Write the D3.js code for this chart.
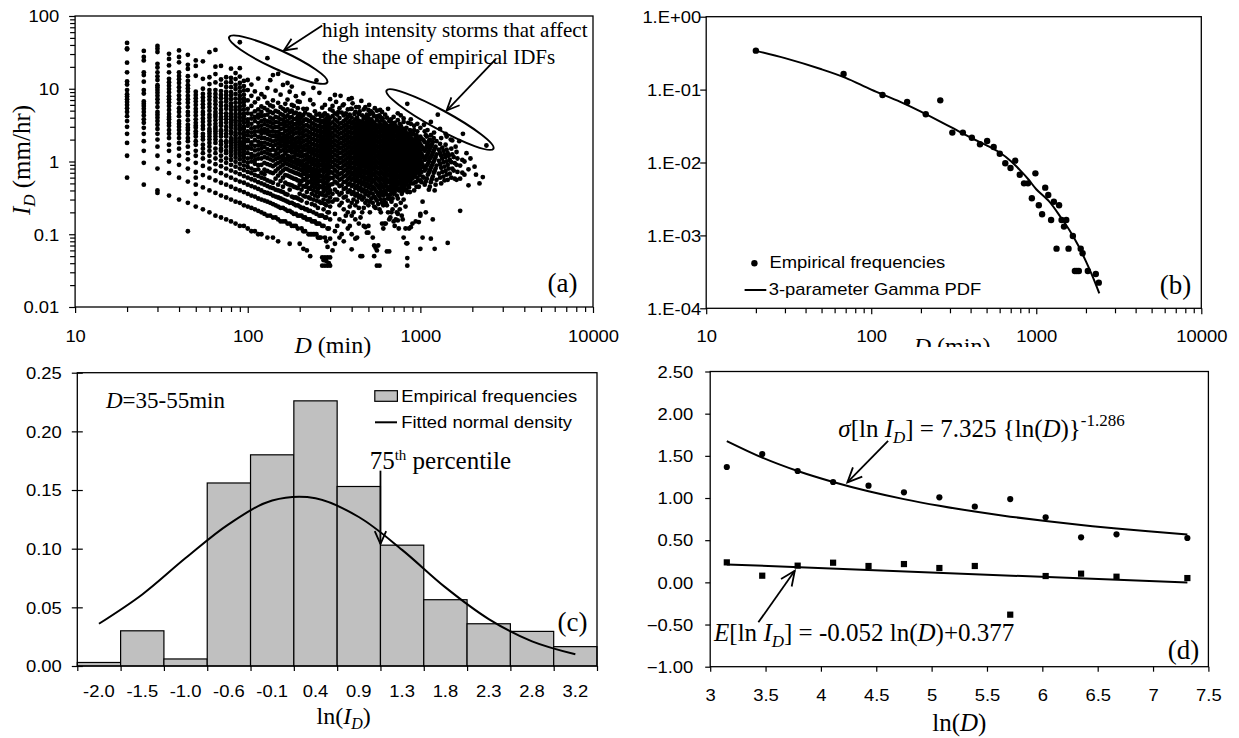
<!DOCTYPE html>
<html>
<head>
<meta charset="utf-8">
<script src="https://cdn.jsdelivr.net/npm/d3@7"></script>
<style>
  body { margin: 0; background: #fff; }
  svg { display: block; }
</style>
</head>
<body>
<svg id="fig" width="1239" height="738"></svg>
<script>

///////////////////////
/// Data            ///
///////////////////////

// (a) storm duration D (min) vs mean intensity I_D (mm/hr)
const columnDurations = [20, 25, 30, 35, 40, 45, 50, 55, 60, 65, 70, 75, 80, 85, 90, 95];
const columnIntensities = [
  [42.6, 36.0, 34.8, 22.8, 16.8, 12.6, 11.4, 9.6, 8.4, 7.8, 7.2, 6.6, 6.0, 5.4, 4.8, 4.2, 3.6, 3.0, 2.4, 1.8, 1.2, 0.6],
  [33.1, 27.4, 24.5, 16.8, 15.4, 12.5, 9.6, 8.6, 6.7, 6.2, 5.8, 5.3, 4.8, 4.3, 3.8, 3.4, 2.9, 2.4, 1.9, 1.4, 0.96, 0.48],
  [38.8, 35.6, 32.0, 22.0, 19.6, 16.8, 14.8, 13.2, 11.2, 10.4, 9.6, 8.8, 8.0, 7.2, 6.4, 5.6, 4.8, 4.4, 4.0, 3.6, 3.2, 2.8, 2.4, 2.0, 1.6, 1.2, 0.8, 0.4, 0.37],
  [30.2, 25.7, 20.9, 16.8, 13.7, 12.3, 11.0, 9.9, 8.9, 7.9, 7.2, 6.5, 5.8, 5.1, 4.5, 4.1, 3.8, 3.4, 3.1, 2.7, 2.4, 2.1, 1.7, 1.4, 1.0, 0.69, 0.34],
  [33.6, 27.3, 23.1, 16.8, 15.0, 13.5, 12.0, 10.5, 9.3, 8.1, 7.2, 6.3, 5.4, 4.8, 4.2, 3.6, 3.3, 3.0, 2.7, 2.4, 2.1, 1.8, 1.5, 1.2, 0.9, 0.6, 0.3],
  [29.3, 21.3, 18.7, 14.9, 12.8, 11.2, 10.1, 9.1, 8.0, 7.2, 6.4, 5.6, 4.8, 4.3, 3.7, 3.2, 2.9, 2.7, 2.4, 2.1, 1.9, 1.6, 1.3, 1.07, 0.8, 0.53, 0.27, 0.11],
  [24.5, 20.6, 15.1, 9.1, 8.2, 7.4, 6.7, 6.0, 5.3, 4.8, 4.3, 3.8, 3.4, 3.1, 2.9, 2.6, 2.4, 2.2, 1.9, 1.7, 1.4, 1.2, 0.96, 0.72, 0.6, 0.48, 0.36, 0.24],
  [23.8, 13.7, 10.0, 8.5, 7.6, 6.8, 6.1, 5.5, 4.8, 4.4, 3.9, 3.5, 3.1, 2.8, 2.4, 2.2, 2.0, 1.7, 1.5, 1.3, 1.1, 0.87, 0.65, 0.44, 0.22],
  [31.8, 14.4, 11.6, 9.6, 8.6, 7.8, 7.0, 6.2, 5.6, 5.0, 4.4, 4.0, 3.6, 3.2, 2.8, 2.6, 2.4, 2.2, 2.0, 1.8, 1.6, 1.4, 1.2, 1.0, 0.8, 0.6, 0.4, 0.2],
  [34.2, 20.1, 15.9, 12.2, 9.6, 8.5, 7.6, 6.8, 6.1, 5.4, 4.8, 4.4, 4.1, 3.7, 3.3, 3.0, 2.8, 2.6, 2.4, 2.2, 2.0, 1.8, 1.5, 1.3, 1.1, 0.92, 0.74, 0.55, 0.37, 0.18],
  [20.6, 13.4, 11.3, 9.3, 8.2, 7.4, 6.5, 5.8, 5.1, 4.6, 4.1, 3.8, 3.4, 3.1, 2.7, 2.6, 2.4, 2.2, 1.9, 1.7, 1.5, 1.4, 1.2, 1.03, 0.86, 0.69, 0.51, 0.34, 0.17],
  [14.4, 12.2, 10.6, 9.1, 8.2, 7.4, 6.7, 5.9, 5.3, 4.6, 4.2, 3.8, 3.4, 3.0, 2.7, 2.4, 2.2, 1.9, 1.8, 1.6, 1.4, 1.3, 1.1, 0.96, 0.8, 0.64, 0.48, 0.32, 0.16],
  [18.9, 14.1, 12.3, 10.5, 9.0, 8.1, 7.2, 6.3, 5.7, 5.1, 4.5, 4.1, 3.8, 3.5, 3.2, 2.9, 2.6, 2.4, 2.1, 1.95, 1.8, 1.65, 1.5, 1.35, 1.2, 1.05, 0.9, 0.75, 0.6, 0.45, 0.3, 0.15],
  [16.4, 13.6, 11.3, 9.9, 8.5, 7.3, 6.4, 5.6, 5.1, 4.5, 4.1, 3.7, 3.4, 3.1, 2.8, 2.5, 2.3, 2.1, 1.98, 1.84, 1.69, 1.55, 1.41, 1.27, 1.13, 0.99, 0.85, 0.71, 0.56, 0.42, 0.28, 0.14],
  [43.6, 19.2, 14.7, 12.0, 10.4, 9.1, 8.0, 7.2, 6.4, 5.7, 5.1, 4.5, 4.0, 3.6, 3.2, 2.9, 2.7, 2.4, 2.1, 1.87, 1.73, 1.6, 1.47, 1.33, 1.2, 1.07, 0.93, 0.8, 0.67, 0.53, 0.4, 0.27, 0.13],
  [12.8, 10.9, 9.5, 8.3, 7.3, 6.6, 5.9, 5.2, 4.6, 4.2, 3.8, 3.4, 3.0, 2.8, 2.5, 2.3, 2.1, 1.9, 1.77, 1.64, 1.52, 1.39, 1.26, 1.14, 1.01, 0.88, 0.76, 0.63, 0.51, 0.38, 0.25, 0.13]
];
// longer storms: [duration, intensities]
const cloudRows = [
  [100, [0.12, 0.24, 0.36, 0.48, 0.6, 0.72, 0.84, 0.96, 1.1, 1.3, 1.5, 1.6, 1.9, 2.0, 2.3, 2.6, 3.1, 3.5, 3.8, 4.6, 5.3, 6.9, 9.6, 13.2]],
  [105, [0.11, 0.23, 0.34, 0.46, 0.57, 0.69, 0.8, 1.0, 1.14, 1.26, 1.5, 1.7, 1.83, 2.2, 2.5, 2.85, 3.3, 3.9, 4.5, 5.8, 8.0, 11.4]],
  [110, [0.11, 0.22, 0.33, 0.44, 0.55, 0.65, 0.76, 0.93, 1.04, 1.2, 1.42, 1.64, 1.96, 2.3, 2.6, 2.95, 3.6, 4.1, 4.9, 6.5, 9.2]],
  [115, [0.1, 0.21, 0.31, 0.42, 0.52, 0.63, 0.78, 0.89, 1.1, 1.25, 1.46, 1.67, 1.88, 2.18, 2.6, 3.0, 3.4, 4.0, 4.4, 5.2, 7.3, 13.8]],
  [120, [0.1, 0.2, 0.3, 0.4, 0.5, 0.6, 0.7, 0.9, 1.1, 1.3, 1.5, 1.7, 1.8, 2.1, 2.4, 2.7, 3.1, 3.6, 4.2, 4.8, 5.7, 8.4]],
  [125, [0.19, 0.29, 0.38, 0.48, 0.58, 0.67, 0.77, 0.96, 1.15, 1.34, 1.58, 1.82, 2.11, 2.5, 2.78, 3.26, 3.74, 4.3, 5.4, 7.7]],
  [130, [0.09, 0.18, 0.28, 0.37, 0.46, 0.55, 0.74, 0.92, 1.11, 1.29, 1.48, 1.75, 2.03, 2.4, 2.72, 3.14, 3.6, 4.4, 5.1, 6.4, 10.2, 26.3]],
  [135, [0.18, 0.27, 0.36, 0.44, 0.53, 0.71, 0.89, 1.07, 1.24, 1.42, 1.69, 1.96, 2.27, 2.58, 3.02, 3.47, 4.0, 4.8, 5.9, 13.1]],
  [140, [0.09, 0.17, 0.26, 0.34, 0.43, 0.51, 0.69, 0.86, 1.03, 1.2, 1.46, 1.63, 1.89, 2.23, 2.57, 2.91, 3.34, 3.86, 4.63, 5.7, 6.9, 15.4]],
  [145, [0.17, 0.25, 0.33, 0.41, 0.58, 0.74, 0.91, 1.08, 1.24, 1.41, 1.7, 1.95, 2.24, 2.56, 2.98, 3.48, 4.1, 4.97, 9.4]],
  [150, [0.08, 0.16, 0.24, 0.32, 0.4, 0.48, 0.64, 0.8, 0.96, 1.12, 1.28, 1.52, 1.76, 2.0, 2.24, 2.56, 2.96, 3.44, 4.0, 4.8, 6.4, 16.0]],
  [155, [0.15, 0.23, 0.31, 0.39, 0.54, 0.7, 0.85, 1.0, 1.16, 1.39, 1.63, 1.86, 2.09, 2.4, 2.79, 3.25, 3.8, 4.5, 5.6, 8.3]],
  [160, [0.15, 0.23, 0.3, 0.38, 0.45, 0.6, 0.75, 0.9, 1.05, 1.2, 1.43, 1.65, 1.88, 2.1, 2.4, 2.85, 3.3, 3.75, 4.35, 5.3, 11.3]],
  [165, [0.15, 0.22, 0.29, 0.36, 0.51, 0.65, 0.8, 0.95, 1.09, 1.31, 1.53, 1.75, 1.96, 2.25, 2.62, 3.05, 3.49, 4.07, 4.95, 6.2]],
  [170, [0.14, 0.21, 0.28, 0.35, 0.49, 0.64, 0.78, 0.92, 1.06, 1.2, 1.41, 1.62, 1.84, 2.05, 2.33, 2.68, 3.11, 3.6, 4.3, 5.2, 7.1, 12.0]],
  [175, [0.074, 0.14, 0.21, 0.27, 0.41, 0.48, 0.62, 0.75, 0.89, 1.03, 1.17, 1.41, 1.58, 1.85, 2.13, 2.47, 2.88, 3.36, 3.98, 4.8, 9.1]],
  [180, [0.13, 0.2, 0.27, 0.33, 0.47, 0.6, 0.73, 0.87, 1.0, 1.13, 1.33, 1.53, 1.73, 1.93, 2.2, 2.6, 3.0, 3.47, 4.07, 5.0, 6.0, 10.7]],
  [185, [0.13, 0.19, 0.26, 0.32, 0.45, 0.58, 0.71, 0.84, 0.97, 1.17, 1.36, 1.56, 1.75, 2.01, 2.4, 2.79, 3.24, 3.83, 4.6, 5.8]],
  [190, [0.13, 0.19, 0.25, 0.32, 0.44, 0.57, 0.69, 0.82, 0.95, 1.07, 1.26, 1.45, 1.64, 1.83, 2.08, 2.46, 2.84, 3.28, 3.85, 4.7, 7.9]],
  [195, [0.12, 0.18, 0.25, 0.31, 0.43, 0.55, 0.68, 0.8, 0.92, 1.05, 1.23, 1.42, 1.6, 1.85, 2.15, 2.52, 2.95, 3.51, 4.2, 5.4, 6.7]],
  [200, [0.074, 0.18, 0.24, 0.3, 0.36, 0.48, 0.54, 0.66, 0.78, 0.9, 1.02, 1.2, 1.38, 1.56, 1.8, 2.04, 2.4, 2.76, 3.24, 3.84, 4.5, 6.6]],
  [205, [0.12, 0.18, 0.23, 0.29, 0.41, 0.53, 0.64, 0.76, 0.88, 0.99, 1.17, 1.35, 1.58, 1.81, 2.11, 2.46, 2.87, 3.39, 4.1]],
  [210, [0.063, 0.11, 0.17, 0.23, 0.34, 0.46, 0.57, 0.69, 0.8, 0.91, 1.03, 1.2, 1.43, 1.6, 1.89, 2.23, 2.57, 3.03, 3.6, 4.35, 5.3, 8.6]],
  [215, [0.11, 0.17, 0.22, 0.33, 0.45, 0.56, 0.67, 0.78, 0.89, 1.06, 1.23, 1.45, 1.67, 1.95, 2.29, 2.68, 3.13, 3.8, 4.7]],
  [220, [0.06, 0.16, 0.22, 0.27, 0.38, 0.49, 0.6, 0.71, 0.82, 0.93, 1.09, 1.25, 1.47, 1.69, 1.96, 2.29, 2.67, 3.16, 3.76, 5.3]],
  [225, [0.1, 0.16, 0.21, 0.32, 0.43, 0.53, 0.64, 0.75, 0.85, 1.01, 1.17, 1.39, 1.6, 1.87, 2.19, 2.56, 3.04, 3.6, 4.4]],
  [230, [0.05, 0.1, 0.16, 0.21, 0.31, 0.42, 0.52, 0.63, 0.73, 0.83, 0.99, 1.15, 1.36, 1.57, 1.83, 2.14, 2.5, 2.97, 3.6, 4.3, 7.0]],
  [235, [0.1, 0.15, 0.26, 0.36, 0.46, 0.56, 0.66, 0.77, 0.92, 1.07, 1.28, 1.48, 1.74, 2.04, 2.4, 2.81, 3.32, 4.0]],
  [240, [0.1, 0.15, 0.2, 0.3, 0.4, 0.5, 0.6, 0.7, 0.8, 0.95, 1.1, 1.3, 1.5, 1.75, 2.05, 2.4, 2.85, 3.35, 4.0, 6.1, 10.3]],
  [245, [0.1, 0.15, 0.25, 0.34, 0.44, 0.54, 0.64, 0.74, 0.88, 1.03, 1.22, 1.42, 1.66, 1.96, 2.3, 2.69, 3.18, 3.8, 4.9]],
  [250, [0.1, 0.14, 0.19, 0.29, 0.38, 0.48, 0.58, 0.67, 0.77, 0.91, 1.06, 1.25, 1.44, 1.68, 1.97, 2.3, 2.69, 3.12, 3.7, 4.4, 13.0]],
  [255, [0.09, 0.14, 0.23, 0.33, 0.42, 0.52, 0.61, 0.71, 0.85, 0.99, 1.18, 1.37, 1.6, 1.88, 2.21, 2.59, 3.06, 3.64]],
  [260, [0.09, 0.14, 0.18, 0.28, 0.37, 0.46, 0.55, 0.65, 0.74, 0.88, 1.02, 1.2, 1.39, 1.62, 1.9, 2.22, 2.63, 3.1, 3.7, 4.5, 8.8]],
  [265, [0.09, 0.18, 0.27, 0.36, 0.45, 0.54, 0.63, 0.77, 0.9, 1.08, 1.27, 1.49, 1.76, 2.08, 2.44, 2.89, 3.43, 4.2]],
  [270, [0.037, 0.048, 0.13, 0.18, 0.27, 0.35, 0.44, 0.53, 0.62, 0.75, 0.89, 1.02, 1.2, 1.38, 1.6, 1.87, 2.18, 2.58, 3.02, 3.6, 4.2, 5.5]],
  [275, [0.044, 0.13, 0.22, 0.3, 0.39, 0.48, 0.57, 0.7, 0.83, 0.96, 1.13, 1.31, 1.53, 1.79, 2.1, 2.49, 2.95, 3.49, 4.4]],
  [280, [0.037, 0.048, 0.09, 0.17, 0.26, 0.34, 0.43, 0.51, 0.6, 0.73, 0.86, 1.03, 1.2, 1.41, 1.63, 1.93, 2.27, 2.65, 3.1, 3.7, 4.6, 6.0]],
  [285, [0.043, 0.08, 0.17, 0.25, 0.34, 0.42, 0.5, 0.63, 0.76, 0.89, 1.05, 1.22, 1.43, 1.69, 1.98, 2.35, 2.78, 3.3, 3.9]],
  [290, [0.037, 0.048, 0.067, 0.12, 0.2, 0.29, 0.37, 0.45, 0.54, 0.66, 0.79, 0.95, 1.12, 1.32, 1.53, 1.8, 2.11, 2.5, 2.95, 3.5, 4.3]],
  [295, [0.04, 0.12, 0.2, 0.28, 0.37, 0.45, 0.57, 0.69, 0.81, 0.98, 1.14, 1.34, 1.59, 1.87, 2.22, 2.62, 3.1, 3.7]],
  [300, [0.037, 0.048, 0.087, 0.16, 0.24, 0.32, 0.4, 0.48, 0.6, 0.72, 0.88, 1.04, 1.24, 1.44, 1.72, 2.0, 2.36, 2.8, 3.3, 4.0, 5.2, 7.2]],
  [310, [0.06, 0.28, 0.36, 0.49, 0.59, 0.7, 0.83, 0.98, 1.15, 1.35, 1.58, 1.84, 2.14, 2.5, 2.92, 3.45, 4.2, 5.8]],
  [320, [0.074, 0.11, 0.19, 0.3, 0.41, 0.53, 0.64, 0.76, 0.9, 1.05, 1.24, 1.44, 1.68, 1.95, 2.29, 2.7, 3.15, 3.8, 4.6, 8.2]],
  [330, [0.13, 0.3, 0.38, 0.5, 0.61, 0.72, 0.86, 1.01, 1.18, 1.39, 1.62, 1.88, 2.2, 2.56, 3.0, 3.55, 4.4]],
  [340, [0.09, 0.16, 0.25, 0.35, 0.46, 0.56, 0.67, 0.81, 0.95, 1.1, 1.3, 1.52, 1.76, 2.05, 2.4, 2.82, 3.3, 3.95, 5.4]],
  [350, [0.1, 0.27, 0.37, 0.47, 0.58, 0.69, 0.82, 0.97, 1.13, 1.33, 1.55, 1.8, 2.11, 2.47, 2.9, 3.4, 4.7]],
  [360, [0.08, 0.15, 0.22, 0.32, 0.42, 0.52, 0.62, 0.74, 0.88, 1.02, 1.2, 1.4, 1.63, 1.9, 2.22, 2.6, 3.05, 3.6, 4.3, 6.1]],
  [370, [0.18, 0.33, 0.43, 0.53, 0.64, 0.77, 0.91, 1.07, 1.25, 1.46, 1.7, 1.99, 2.32, 2.72, 3.18, 3.8]],
  [380, [0.12, 0.2, 0.29, 0.38, 0.48, 0.57, 0.69, 0.82, 0.96, 1.13, 1.32, 1.54, 1.8, 2.1, 2.46, 2.9, 3.4, 4.1, 5.2]],
  [390, [0.13, 0.24, 0.4, 0.5, 0.61, 0.73, 0.86, 1.01, 1.18, 1.38, 1.61, 1.88, 2.2, 2.58, 3.02, 3.6, 4.4]],
  [400, [0.062, 0.1, 0.18, 0.27, 0.36, 0.46, 0.56, 0.67, 0.8, 0.94, 1.1, 1.29, 1.5, 1.76, 2.06, 2.42, 2.84, 3.35, 4.0, 5.3, 7.4]],
  [410, [0.2, 0.3, 0.38, 0.48, 0.59, 0.7, 0.83, 0.97, 1.14, 1.34, 1.57, 1.84, 2.15, 2.52, 2.96, 3.5]],
  [420, [0.087, 0.16, 0.25, 0.34, 0.43, 0.53, 0.64, 0.76, 0.9, 1.05, 1.23, 1.44, 1.69, 1.98, 2.32, 2.72, 3.2, 3.8, 4.8]],
  [430, [0.09, 0.28, 0.36, 0.46, 0.57, 0.68, 0.8, 0.95, 1.11, 1.3, 1.52, 1.78, 2.09, 2.45, 2.88, 3.4, 4.0]],
  [440, [0.14, 0.23, 0.32, 0.41, 0.51, 0.62, 0.74, 0.87, 1.02, 1.19, 1.4, 1.63, 1.91, 2.24, 2.63, 3.1, 3.65, 4.5, 5.6]],
  [450, [0.05, 0.17, 0.34, 0.44, 0.54, 0.66, 0.78, 0.92, 1.08, 1.27, 1.48, 1.73, 2.03, 2.38, 2.8, 3.3]],
  [460, [0.05, 0.2, 0.3, 0.39, 0.49, 0.6, 0.72, 0.85, 0.99, 1.16, 1.36, 1.59, 1.86, 2.18, 2.56, 3.0, 3.55, 4.3]],
  [470, [0.13, 0.23, 0.32, 0.41, 0.52, 0.63, 0.75, 0.89, 1.05, 1.23, 1.44, 1.69, 1.98, 2.32, 2.72, 3.2, 3.9]],
  [480, [0.125, 0.27, 0.36, 0.46, 0.57, 0.69, 0.82, 0.96, 1.12, 1.31, 1.53, 1.79, 2.1, 2.46, 2.9, 3.4, 4.1, 5.6]],
  [490, [0.105, 0.29, 0.39, 0.5, 0.6, 0.72, 0.86, 1.02, 1.2, 1.4, 1.64, 1.92, 2.25, 2.64, 3.1, 3.7]],
  [500, [0.105, 0.13, 0.25, 0.34, 0.44, 0.55, 0.66, 0.79, 0.93, 1.09, 1.28, 1.5, 1.75, 2.05, 2.4, 2.82, 3.3, 3.95, 5.1]],
  [510, [0.2, 0.28, 0.37, 0.47, 0.58, 0.7, 0.83, 0.98, 1.15, 1.35, 1.58, 1.85, 2.17, 2.55, 3.0, 3.55, 4.5]],
  [520, [0.31, 0.41, 0.51, 0.62, 0.74, 0.88, 1.04, 1.22, 1.43, 1.67, 1.96, 2.3, 2.7, 3.18, 3.8, 4.9]],
  [530, [0.09, 0.27, 0.36, 0.45, 0.56, 0.68, 0.81, 0.96, 1.13, 1.33, 1.56, 1.83, 2.15, 2.52, 2.96, 3.5]],
  [540, [0.05, 0.07, 0.24, 0.33, 0.43, 0.54, 0.66, 0.79, 0.93, 1.1, 1.29, 1.51, 1.77, 2.08, 2.45, 2.88, 3.4, 4.2]],
  [550, [0.065, 0.23, 0.31, 0.4, 0.5, 0.61, 0.73, 0.87, 1.03, 1.21, 1.42, 1.66, 1.95, 2.29, 2.69, 3.2]],
  [560, [0.037, 0.06, 0.29, 0.38, 0.48, 0.59, 0.71, 0.85, 1.0, 1.18, 1.39, 1.63, 1.92, 2.26, 2.66, 3.14, 3.75, 5.0]],
  [570, [0.07, 0.26, 0.35, 0.45, 0.56, 0.68, 0.81, 0.96, 1.13, 1.33, 1.56, 1.83, 2.15, 2.52, 2.95]],
  [580, [0.037, 0.22, 0.33, 0.43, 0.54, 0.66, 0.8, 0.95, 1.12, 1.32, 1.55, 1.82, 2.14, 2.52, 2.98, 3.5, 4.3]],
  [590, [0.2, 0.3, 0.39, 0.49, 0.6, 0.73, 0.87, 1.03, 1.21, 1.42, 1.66, 1.95, 2.29, 2.69, 3.2, 4.0]],
  [600, [0.14, 0.27, 0.36, 0.46, 0.57, 0.69, 0.83, 0.99, 1.17, 1.38, 1.62, 1.9, 2.24, 2.64, 3.1, 3.7, 4.8]],
  [610, [0.12, 0.25, 0.34, 0.44, 0.55, 0.67, 0.8, 0.95, 1.12, 1.32, 1.55, 1.82, 2.14, 2.52, 2.96]],
  [620, [0.14, 0.3, 0.4, 0.51, 0.63, 0.77, 0.92, 1.09, 1.29, 1.52, 1.79, 2.1, 2.48, 2.92, 3.45]],
  [630, [0.14, 0.27, 0.37, 0.47, 0.58, 0.71, 0.85, 1.01, 1.19, 1.4, 1.64, 1.93, 2.27, 2.67, 3.3]],
  [640, [0.058, 0.25, 0.35, 0.45, 0.56, 0.68, 0.82, 0.98, 1.16, 1.37, 1.61, 1.9, 2.23, 2.63, 3.1, 4.0]],
  [650, [0.2, 0.31, 0.41, 0.52, 0.64, 0.77, 0.92, 1.09, 1.28, 1.5, 1.76, 2.07, 2.43, 2.86]],
  [660, [0.058, 0.16, 0.31, 0.41, 0.52, 0.64, 0.78, 0.94, 1.12, 1.33, 1.57, 1.85, 2.18, 2.57, 3.05, 3.6]],
  [670, [0.17, 0.35, 0.45, 0.56, 0.69, 0.83, 0.99, 1.17, 1.38, 1.62, 1.9, 2.23, 2.62, 3.1]],
  [680, [0.2, 0.28, 0.38, 0.48, 0.6, 0.73, 0.88, 1.05, 1.25, 1.48, 1.75, 2.06, 2.43, 2.87, 3.4]],
  [690, [0.22, 0.31, 0.41, 0.52, 0.64, 0.77, 0.92, 1.09, 1.29, 1.52, 1.79, 2.1, 2.47, 2.9]],
  [700, [0.15, 0.36, 0.45, 0.56, 0.69, 0.83, 0.99, 1.18, 1.4, 1.65, 1.95, 2.3, 2.72, 3.2]],
  [710, [0.13, 0.38, 0.48, 0.59, 0.72, 0.86, 1.02, 1.2, 1.41, 1.66, 1.95, 2.29, 2.7, 3.4]],
  [720, [0.16, 0.25, 0.42, 0.53, 0.65, 0.79, 0.95, 1.13, 1.34, 1.58, 1.87, 2.21, 2.6, 3.05]],
  [730, [0.2, 0.34, 0.44, 0.55, 0.67, 0.81, 0.97, 1.15, 1.36, 1.6, 1.88, 2.21, 2.6]],
  [740, [0.155, 0.19, 0.31, 0.48, 0.6, 0.73, 0.88, 1.05, 1.25, 1.48, 1.75, 2.07, 2.45, 2.9, 4.6]],
  [750, [0.12, 0.4, 0.5, 0.61, 0.74, 0.89, 1.06, 1.25, 1.47, 1.73, 2.03, 2.39, 2.82]],
  [760, [0.22, 0.4, 0.51, 0.63, 0.77, 0.93, 1.11, 1.32, 1.56, 1.85, 2.19, 2.58, 3.3]],
  [770, [0.27, 0.43, 0.54, 0.66, 0.8, 0.96, 1.14, 1.34, 1.58, 1.86, 2.19, 2.57, 3.1]],
  [780, [0.18, 0.36, 0.46, 0.57, 0.7, 0.85, 1.02, 1.22, 1.45, 1.72, 2.03, 2.4, 2.85]],
  [790, [0.16, 0.39, 0.5, 0.62, 0.75, 0.9, 1.07, 1.27, 1.5, 1.77, 2.08, 2.45]],
  [800, [0.09, 0.3, 0.42, 0.54, 0.67, 0.82, 0.99, 1.19, 1.42, 1.68, 1.99, 2.36, 2.8, 3.5]],
  [810, [0.45, 0.56, 0.69, 0.83, 0.99, 1.17, 1.38, 1.63, 1.92, 2.26, 2.66]],
  [820, [0.12, 0.24, 0.49, 0.61, 0.75, 0.91, 1.1, 1.31, 1.56, 1.85, 2.2, 2.6]],
  [830, [0.075, 0.41, 0.52, 0.64, 0.78, 0.94, 1.12, 1.32, 1.56, 1.84, 2.17, 2.9]],
  [840, [0.037, 0.047, 0.075, 0.38, 0.55, 0.68, 0.83, 1.0, 1.2, 1.43, 1.7, 2.01, 2.38, 6.2]],
  [850, [0.47, 0.58, 0.71, 0.86, 1.03, 1.22, 1.44, 1.7, 2.0, 2.36]],
  [860, [0.12, 0.44, 0.62, 0.76, 0.92, 1.1, 1.32, 1.57, 1.87, 2.22]],
  [870, [0.38, 0.54, 0.66, 0.8, 0.96, 1.14, 1.35, 1.59, 1.88, 2.22, 2.7]],
  [880, [0.125, 0.5, 0.7, 0.85, 1.03, 1.24, 1.48, 1.76, 2.09, 2.5, 3.3]],
  [890, [0.6, 0.73, 0.88, 1.05, 1.25, 1.48, 1.75, 2.06]],
  [900, [0.14, 0.58, 0.78, 0.96, 1.16, 1.4, 1.67, 1.99, 2.4]],
  [910, [0.5, 0.68, 0.82, 0.99, 1.18, 1.4, 1.66, 1.96, 2.4]],
  [920, [0.4, 0.66, 0.88, 1.08, 1.31, 1.58, 1.9, 2.7]],
  [930, [0.62, 0.77, 0.93, 1.12, 1.34, 1.6, 1.9]],
  [940, [0.15, 0.52, 0.75, 0.99, 1.22, 1.48, 1.8, 2.2]],
  [950, [0.45, 0.7, 0.86, 1.04, 1.25, 1.5, 1.79, 2.3]],
  [960, [0.6, 0.84, 1.1, 1.38, 1.7, 2.05, 2.6]],
  [970, [0.55, 0.78, 0.96, 1.17, 1.42, 1.7]],
  [980, [0.147, 0.45, 0.7, 0.95, 1.24, 1.55, 1.92]],
  [990, [0.65, 0.88, 1.12, 1.4, 1.75]],
  [1000, [0.063, 0.18, 0.19, 0.55, 0.8, 1.06, 1.36, 1.72, 2.2]],
  [1015, [0.52, 0.72, 0.98, 1.28, 1.62, 2.05]],
  [1030, [0.09, 0.28, 0.62, 0.9, 1.2, 1.55, 2.0]],
  [1045, [0.6, 0.84, 1.13, 1.47, 1.95]],
  [1060, [0.48, 0.75, 1.05, 1.4, 1.85, 2.6]],
  [1075, [0.2, 0.53, 0.79, 1.09, 1.5, 2.3]],
  [1090, [0.58, 0.88, 1.2, 1.62, 2.2]],
  [1105, [0.66, 0.93, 1.28, 1.72]],
  [1120, [0.41, 0.7, 1.0, 1.38, 1.9]],
  [1135, [0.45, 0.76, 1.1, 1.5, 2.0]],
  [1150, [0.087, 0.52, 0.82, 1.15, 1.6, 2.3]],
  [1165, [0.57, 0.88, 1.22, 1.7]],
  [1180, [0.16, 0.62, 0.95, 1.32, 1.85]],
  [1195, [0.7, 1.0, 1.4, 2.1]],
  [1210, [0.063, 0.4, 0.74, 1.08, 1.5]],
  [1225, [0.48, 0.8, 1.15, 1.6]],
  [1240, [0.56, 0.88, 1.25, 1.9]],
  [1262, [4.4]],
  [1280, [0.68, 1.02, 1.45]],
  [1300, [0.6, 0.92, 1.3, 1.75]],
  [1320, [0.5, 0.82, 1.2, 2.1]],
  [1340, [0.72, 1.1, 1.55]],
  [1360, [0.62, 0.98, 1.4]],
  [1380, [0.55, 0.85, 1.25]],
  [1400, [0.74, 1.15, 1.7]],
  [1420, [0.66, 1.0, 1.45, 2.2]],
  [1440, [0.076, 0.56, 0.9, 1.3]],
  [1460, [0.8, 1.2]],
  [1480, [0.68, 1.05]],
  [1510, [0.6, 0.98, 1.5]],
  [1530, [0.8, 1.25, 1.95]],
  [1560, [0.75, 1.15]],
  [1580, [0.58, 0.95]],
  [1620, [0.56, 0.9, 1.35]],
  [1640, [0.72, 1.1]],
  [1700, [0.21, 0.58, 0.88]],
  [1750, [0.7, 1.05]],
  [1764, [2.4]],
  [1800, [0.66, 1.0]],
  [1900, [0.47, 0.78]],
  [2060, [0.85]],
  [2300, [0.61]],
  [2413, [1.66]]
];
// isolated storms above the main cloud: [duration, intensity]
const upperScatter = [
  [310, 5.0], [325, 6.6], [335, 4.8], [345, 8.0], [355, 5.9], [370, 4.6], [385, 7.2], [395, 5.3],
  [405, 6.3], [415, 4.5], [425, 5.6], [445, 4.9], [455, 6.8], [470, 5.2], [490, 4.4], [505, 6.0],
  [530, 4.6], [545, 5.4], [565, 4.2], [585, 5.1], [605, 3.9], [625, 4.4], [650, 5.3], [675, 3.8],
  [700, 4.1], [740, 3.7], [770, 4.3], [800, 3.9], [850, 3.4], [880, 3.8], [920, 3.1], [960, 3.3],
  [1000, 2.9], [1050, 3.2], [1100, 2.7], [1150, 3.5], [1200, 2.5], [1300, 2.8], [1400, 2.4],
  [1500, 2.0], [1600, 1.6], [1680, 1.9], [1850, 1.3], [1950, 1.1], [2100, 0.66], [2200, 0.5]
];

// (b) empirical frequencies of storm duration and fitted gamma pdf
const freqDurations = [20, 68, 117, 165, 214, 262, 310, 359, 407, 456, 504, 552, 601, 649, 698, 746, 794, 843, 891, 940, 988, 1036, 1085, 1133, 1182, 1230, 1278, 1327, 1375, 1424, 1472, 1520, 1569, 1666, 1714, 1762, 1811, 1859, 1908, 2053, 2295, 2392];
const freqValues = [0.342, 0.164, 0.0843, 0.0676, 0.0458, 0.0712, 0.0257, 0.0257, 0.0219, 0.0178, 0.0197, 0.0163, 0.0132, 0.00975, 0.0084, 0.0106, 0.0068, 0.00518, 0.00518, 0.00323, 0.0071, 0.00259, 0.00195, 0.00452, 0.00358, 0.00163, 0.0029, 0.000658, 0.00259, 0.00163, 0.00132, 0.00163, 0.000658, 0.00098, 0.000325, 0.000325, 0.000325, 0.000658, 0.000568, 0.000325, 0.000296, 0.000225];
const gammaDurations = [20, 30, 50, 70, 100, 150, 200, 300, 400, 500, 600, 700, 800, 900, 1000, 1200, 1400, 1600, 1800, 2000, 2200, 2410];
const gammaValues = [0.34, 0.27, 0.19, 0.145, 0.1, 0.068, 0.05, 0.031, 0.022, 0.0172, 0.0137, 0.0105, 0.0078, 0.0058, 0.0043, 0.0029, 0.0018, 0.00115, 0.00072, 0.00044, 0.00027, 0.00016];

// (c) histogram of ln(I_D) for D = 35-55 min
const binLabels = ["-2.0", "-1.5", "-1.0", "-0.6", "-0.1", "0.4", "0.9", "1.3", "1.8", "2.3", "2.8", "3.2"];
const binFreq = [0.003, 0.030, 0.006, 0.156, 0.180, 0.226, 0.153, 0.103, 0.0565, 0.036, 0.0295, 0.0165];
const normalDensity = [0.036, 0.061, 0.092, 0.121, 0.141, 0.143, 0.127, 0.099, 0.067, 0.040, 0.021, 0.010];

// (d) moments of ln(I_D) against ln(D)
const lnD = [3.15, 3.47, 3.79, 4.11, 4.43, 4.75, 5.07, 5.39, 5.71, 6.03, 6.35, 6.67, 7.31];
const sigmaObs = [1.368, 1.522, 1.32, 1.19, 1.146, 1.067, 1.008, 0.897, 0.988, 0.771, 0.534, 0.569, 0.526];
const meanObs = [0.237, 0.079, 0.198, 0.233, 0.194, 0.217, 0.17, 0.194, -0.383, 0.075, 0.103, 0.067, 0.051];
const sigmaFit = [1.675, 1.479, 1.32, 1.19, 1.08, 0.987, 0.908, 0.839, 0.779, 0.727, 0.68, 0.639, 0.568];
const meanFitX = [3.15, 7.31];
const meanFitY = [0.213, -0.003];

// tick values
const durationTicks = [10, 100, 1000, 10000];
const intensityTicks = [0.01, 0.1, 1, 10, 100];
const freqTicks = [1e-4, 1e-3, 1e-2, 1e-1, 1];
const histTicks = [0, 0.05, 0.10, 0.15, 0.20, 0.25];
const momentTicksY = [-1, -0.5, 0, 0.5, 1, 1.5, 2, 2.5];
const momentTicksX = [3, 3.5, 4, 4.5, 5, 5.5, 6, 6.5, 7, 7.5];

///////////////////////
/// Helpers         ///
///////////////////////

const SANS = '"Liberation Sans", Arial, sans-serif';
const SERIF = '"Liberation Serif", "Times New Roman", serif';
const svg = d3.select("#fig");

// the sans text in the original is a little wide
function stretch(sel, k) {
  k = k || 1.15;
  sel.each(function () {
    let t = d3.select(this);
    let x = +t.attr("x") || 0, y = +t.attr("y") || 0;
    t.attr("x", 0).attr("y", 0)
      .attr("transform", `translate(${x},${y}) scale(${k},1)`);
  });
}

function sansText(g, x, y, str, anchor) {
  let t = g.append("text")
    .attr("x", x).attr("y", y)
    .attr("font-family", SANS).attr("font-size", 16)
    .attr("text-anchor", anchor || "start")
    .text(str);
  stretch(t);
  return t;
}

function richText(g, x, y, size, parts, anchor) {
  let t = g.append("text")
    .attr("x", x).attr("y", y)
    .attr("font-family", SERIF).attr("font-size", size)
    .attr("text-anchor", anchor || "start");
  parts.forEach(p => {
    let s = t.append("tspan").text(p.t);
    if (p.i) s.attr("font-style", "italic");
    if (p.size) s.attr("font-size", p.size);
    if (p.dy) s.attr("dy", p.dy);
  });
  return t;
}

function arrow(g, x1, y1, x2, y2, head) {
  head = head || 14;
  let a = Math.atan2(y2 - y1, x2 - x1), w = 0.42;
  g.append("line")
    .attr("x1", x1).attr("y1", y1).attr("x2", x2).attr("y2", y2)
    .attr("stroke", "#000").attr("stroke-width", 1.8);
  let p1 = [x2 - head * Math.cos(a - w), y2 - head * Math.sin(a - w)];
  let p2 = [x2 - head * Math.cos(a + w), y2 - head * Math.sin(a + w)];
  g.append("path")
    .attr("d", `M${p1[0]},${p1[1]}L${x2},${y2}L${p2[0]},${p2[1]}`)
    .attr("fill", "none").attr("stroke", "#000").attr("stroke-width", 1.8);
}

// ellipse drawn around two end points (pixel space)
function ringAround(g, p, q, halfWidth) {
  let cx = (p[0] + q[0]) / 2, cy = (p[1] + q[1]) / 2;
  let len = Math.hypot(q[0] - p[0], q[1] - p[1]) / 2;
  let ang = Math.atan2(q[1] - p[1], q[0] - p[0]) * 180 / Math.PI;
  g.append("ellipse")
    .attr("cx", 0).attr("cy", 0).attr("rx", len).attr("ry", halfWidth)
    .attr("transform", `translate(${cx},${cy}) rotate(${ang})`)
    .attr("fill", "none").attr("stroke", "#000").attr("stroke-width", 2);
}

function frame(g, x, y) {
  g.append("rect")
    .attr("x", x.range()[0]).attr("y", y.range()[1])
    .attr("width", x.range()[1] - x.range()[0])
    .attr("height", y.range()[0] - y.range()[1])
    .attr("fill", "none").attr("stroke", "#000").attr("stroke-width", 1.3);
}

function cleanAxis(ax) {
  ax.attr("font-family", null).attr("font-size", null);
  ax.select(".domain").remove();
  ax.selectAll("line").attr("stroke-width", 1.2);
  ax.selectAll("text").attr("font-family", SANS).attr("font-size", 16).attr("fill", "#000");
}

function minorsOf(decades) {
  let out = [];
  decades.forEach(d => { for (let m = 2; m <= 9; m++) out.push(d * m); });
  return out;
}

// log x axis with minor ticks and labels at decades
function logAxisBottom(g, x, y0, majors, fmt, labelY) {
  let minor = g.append("g").attr("transform", `translate(0,${y0})`)
    .call(d3.axisBottom(x).tickValues(minorsOf(majors.slice(0, -1))).tickSize(5).tickFormat("").tickSizeOuter(0));
  cleanAxis(minor);
  let major = g.append("g").attr("transform", `translate(0,${y0})`)
    .call(d3.axisBottom(x).tickValues(majors).tickSize(6).tickFormat(fmt).tickSizeOuter(0));
  cleanAxis(major);
  major.selectAll("text").attr("y", labelY).attr("dy", null);
  stretch(major.selectAll("text"));
}

function logAxisLeft(g, y, x0, majors, fmt, labelX, withMinor) {
  if (withMinor) {
    let minor = g.append("g").attr("transform", `translate(${x0},0)`)
      .call(d3.axisLeft(y).tickValues(minorsOf(majors.slice(0, -1))).tickSize(5).tickFormat("").tickSizeOuter(0));
    cleanAxis(minor);
  }
  let major = g.append("g").attr("transform", `translate(${x0},0)`)
    .call(d3.axisLeft(y).tickValues(majors).tickSize(6).tickFormat(fmt).tickSizeOuter(0));
  cleanAxis(major);
  major.selectAll("text").attr("x", labelX).attr("dy", "0.36em");
  stretch(major.selectAll("text"));
}

///////////////////////
/// Panel (a)       ///
///////////////////////

function panelA() {
  let g = svg.append("g").attr("class", "panel-a");
  let x = d3.scaleLog().domain([10, 10000]).range([75.1, 593]);
  let y = d3.scaleLog().domain([0.01, 100]).range([307, 16]);

  let points = [];
  columnDurations.forEach((d, i) => columnIntensities[i].forEach(v => points.push([d, v])));
  cloudRows.forEach(r => r[1].forEach(v => points.push([r[0], v])));
  upperScatter.forEach(p => points.push(p));

  g.append("g").selectAll("circle")
    .data(points)
    .join("circle")
    .attr("cx", d => x(d[0]))
    .attr("cy", d => y(d[1]))
    .attr("r", 2.4)
    .attr("fill", "#000");

  frame(g, x, y);
  logAxisBottom(g, x, y.range()[0], durationTicks, d3.format("d"), 34.7);
  logAxisLeft(g, y, x.range()[0], intensityTicks, d => String(d), -15.8, true);

  // titles
  richText(g, x(311), 353, 24, [{ t: "D", i: 1 }, { t: " (min)" }], "middle");
  richText(g, 0, 0, 25, [{ t: "I", i: 1 }, { t: "D", i: 1, size: 17, dy: 5 }, { t: " (mm/hr)", dy: -5 }], "middle")
    .attr("transform", "translate(30,160) rotate(-90)");

  // highlighted storms
  ringAround(g, [x(78), y(51.3)], [x(289), y(12.3)], 9.5);
  ringAround(g, [x(637), y(9.46)], [x(2650), y(1.5)], 9.5);
  arrow(g, x(270), y(74), x(162), y(33.6));
  arrow(g, x(2742), y(25.8), x(1420), y(5.02));
  richText(g, x(269), y(51.3), 21, [{ t: "high intensity storms that affect" }]);
  richText(g, x(269), y(22.0), 21, [{ t: "the shape of empirical IDFs" }]);

  richText(g, x(5445), y(0.016), 27, [{ t: "(a)" }]);
}

///////////////////////
/// Panel (b)       ///
///////////////////////

function panelB() {
  let g = svg.append("g").attr("class", "panel-b");
  let x = d3.scaleLog().domain([10, 10000]).range([706.2, 1201.3]);
  let y = d3.scaleLog().domain([1e-4, 1]).range([308.3, 16.7]);

  svg.append("clipPath").attr("id", "clip-b")
    .append("rect").attr("x", 600).attr("y", 0).attr("width", 639).attr("height", 347);

  let line = d3.line()
    .x((d, i) => x(gammaDurations[i]))
    .y(d => y(d))
    .curve(d3.curveCatmullRom);

  g.append("path")
    .datum(gammaValues)
    .attr("d", line)
    .attr("fill", "none").attr("stroke", "#000").attr("stroke-width", 2);

  g.append("g").selectAll("circle")
    .data(freqValues)
    .join("circle")
    .attr("cx", (d, i) => x(freqDurations[i]))
    .attr("cy", d => y(d))
    .attr("r", 3.2)
    .attr("fill", "#000");

  frame(g, x, y);
  logAxisBottom(g, x, y.range()[0], durationTicks, d3.format("d"), 33.4);
  let fmtE = d => {
    let e = Math.round(Math.log10(d));
    return "1.E" + (e < 0 ? "-" : "+") + String(Math.abs(e)).padStart(2, "0");
  };
  logAxisLeft(g, y, x.range()[0], freqTicks, fmtE, -5, false);

  richText(g, x(309), 354, 24, [{ t: "D", i: 1 }, { t: " (min)" }], "middle")
    .attr("clip-path", "url(#clip-b)");

  // legend
  let L = x.range()[0], B = y.range()[0];
  g.append("circle").attr("cx", L + 48.2).attr("cy", B - 45).attr("r", 3.2).attr("fill", "#000");
  sansText(g, L + 63.3, B - 40, "Empirical frequencies");
  g.append("line").attr("x1", L + 38.4).attr("x2", L + 60.1).attr("y1", B - 18.3).attr("y2", B - 18.3)
    .attr("stroke", "#000").attr("stroke-width", 2);
  sansText(g, L + 62.5, B - 13.3, "3-parameter Gamma PDF");

  richText(g, x(5600), y(0.000155), 27, [{ t: "(b)" }]);
}

///////////////////////
/// Panel (c)       ///
///////////////////////

function panelC() {
  let g = svg.append("g").attr("class", "panel-c");
  let x = d3.scaleLinear().domain([0, binLabels.length]).range([77.3, 597]);
  let y = d3.scaleLinear().domain([0, 0.25]).range([666, 372.7]);

  g.append("g").selectAll("rect")
    .data(binFreq)
    .join("rect")
    .attr("x", (d, i) => x(i))
    .attr("y", d => y(d))
    .attr("width", x(1) - x(0))
    .attr("height", d => y(0) - y(d))
    .attr("fill", "#c0c0c0")
    .attr("stroke", "#000").attr("stroke-width", 1.2);

  let line = d3.line()
    .x((d, i) => x(i + 0.5))
    .y(d => y(d))
    .curve(d3.curveCatmullRom);

  g.append("path")
    .datum(normalDensity)
    .attr("d", line)
    .attr("fill", "none").attr("stroke", "#000").attr("stroke-width", 2);

  frame(g, x, y);

  // y axis with ticks crossing the axis line
  let ya = g.append("g").attr("transform", `translate(${x(0)},0)`)
    .call(d3.axisLeft(y).tickValues(histTicks).tickSize(5.5).tickFormat(d3.format(".2f")).tickSizeOuter(0));
  cleanAxis(ya);
  ya.selectAll(".tick line").attr("x2", 5.5).attr("x1", -5.5);
  ya.selectAll("text").attr("x", -15.6).attr("dy", "0.36em");
  stretch(ya.selectAll("text"));

  // x axis: ticks on bin edges, labels on bin centres
  let xa = g.append("g").attr("transform", `translate(0,${y(0)})`)
    .call(d3.axisBottom(x).tickValues(d3.range(binLabels.length + 1)).tickSize(5).tickFormat("").tickSizeOuter(0));
  cleanAxis(xa);
  binLabels.forEach((lab, i) => sansText(g, x(i + 0.5), y(0) + 31.3, lab, "middle"));

  richText(g, x(6.15), 724, 24, [{ t: "ln(" }, { t: "I", i: 1 }, { t: "D", i: 1, size: 16, dy: 5 }, { t: ")", dy: -5 }], "middle");

  richText(g, x(0.66), y(0.2197), 23, [{ t: "D", i: 1 }, { t: "=35-55min" }]);

  // legend
  g.append("rect").attr("x", 374.8).attr("y", 390.7).attr("width", 22.6).attr("height", 10.6)
    .attr("fill", "#c0c0c0").attr("stroke", "#000").attr("stroke-width", 1.2);
  sansText(g, 401.3, 401.5, "Empirical frequencies");
  g.append("line").attr("x1", 375).attr("x2", 397).attr("y1", 422.3).attr("y2", 422.3)
    .attr("stroke", "#000").attr("stroke-width", 2);
  sansText(g, 401.3, 427.5, "Fitted normal density");

  // 75th percentile
  richText(g, x(6.75), y(0.168), 25, [{ t: "75" }, { t: "th", size: 15, dy: -9 }, { t: " percentile", dy: 9 }]);
  arrow(g, x(7.0), y(0.1665), x(7.0), y(0.104), 14);

  richText(g, x(11.09), y(0.030), 27, [{ t: "(c)" }]);
}

///////////////////////
/// Panel (d)       ///
///////////////////////

function panelD() {
  let g = svg.append("g").attr("class", "panel-d");
  let x = d3.scaleLinear().domain([3, 7.5]).range([710.2, 1208.4]);
  let y = d3.scaleLinear().domain([-1, 2.5]).range([666.7, 371.5]);

  let fit = d3.line()
    .x((d, i) => x(lnD[i]))
    .y(d => y(d))
    .curve(d3.curveCatmullRom);

  g.append("path").datum(sigmaFit).attr("d", fit)
    .attr("fill", "none").attr("stroke", "#000").attr("stroke-width", 2);

  g.append("path").datum(meanFitY)
    .attr("d", d3.line().x((d, i) => x(meanFitX[i])).y(d => y(d)))
    .attr("fill", "none").attr("stroke", "#000").attr("stroke-width", 2);

  g.append("g").selectAll("circle")
    .data(sigmaObs)
    .join("circle")
    .attr("cx", (d, i) => x(lnD[i]))
    .attr("cy", d => y(d))
    .attr("r", 3.1)
    .attr("fill", "#000");

  g.append("g").selectAll("rect")
    .data(meanObs)
    .join("rect")
    .attr("x", (d, i) => x(lnD[i]) - 3.1)
    .attr("y", d => y(d) - 3.1)
    .attr("width", 6.2).attr("height", 6.2)
    .attr("fill", "#000");

  frame(g, x, y);

  let ya = g.append("g").attr("transform", `translate(${x(3)},0)`)
    .call(d3.axisLeft(y).tickValues(momentTicksY).tickSize(5).tickFormat(d3.format(".2f")).tickSizeOuter(0));
  cleanAxis(ya);
  ya.selectAll("text").attr("x", -17).attr("dy", "0.36em");
  stretch(ya.selectAll("text"));

  let xa = g.append("g").attr("transform", `translate(0,${y(-1)})`)
    .call(d3.axisBottom(x).tickValues(momentTicksX).tickSize(5).tickFormat(d3.format("")).tickSizeOuter(0));
  cleanAxis(xa);
  xa.selectAll("text").attr("y", 34).attr("dy", null);
  stretch(xa.selectAll("text"));

  richText(g, x(5.25), 731, 25, [{ t: "ln(" }, { t: "D", i: 1 }, { t: ")" }], "middle");

  // fitted relations
  richText(g, x(4.157), y(1.718), 25, [
    { t: "σ", i: 1 }, { t: "[ln " }, { t: "I", i: 1 }, { t: "D", i: 1, size: 17, dy: 6 },
    { t: "] = 7.325 {ln(", dy: -6 }, { t: "D", i: 1 }, { t: ")}" },
    { t: "-1.286", size: 17, dy: -11 }
  ]);
  arrow(g, x(4.607), y(1.678), x(4.239), y(1.185), 16);

  richText(g, x(3.035), y(-0.692), 25, [
    { t: "E", i: 1 }, { t: "[ln " }, { t: "I", i: 1 }, { t: "D", i: 1, size: 17, dy: 6 },
    { t: "] = -0.052 ln(", dy: -6 }, { t: "D", i: 1 }, { t: ")+0.377" }
  ]);
  arrow(g, x(3.435), y(-0.474), x(3.764), y(0.137), 16);

  richText(g, x(7.132), y(-0.909), 27, [{ t: "(d)" }]);
}

panelA();
panelB();
panelC();
panelD();

</script>
</body>
</html>
